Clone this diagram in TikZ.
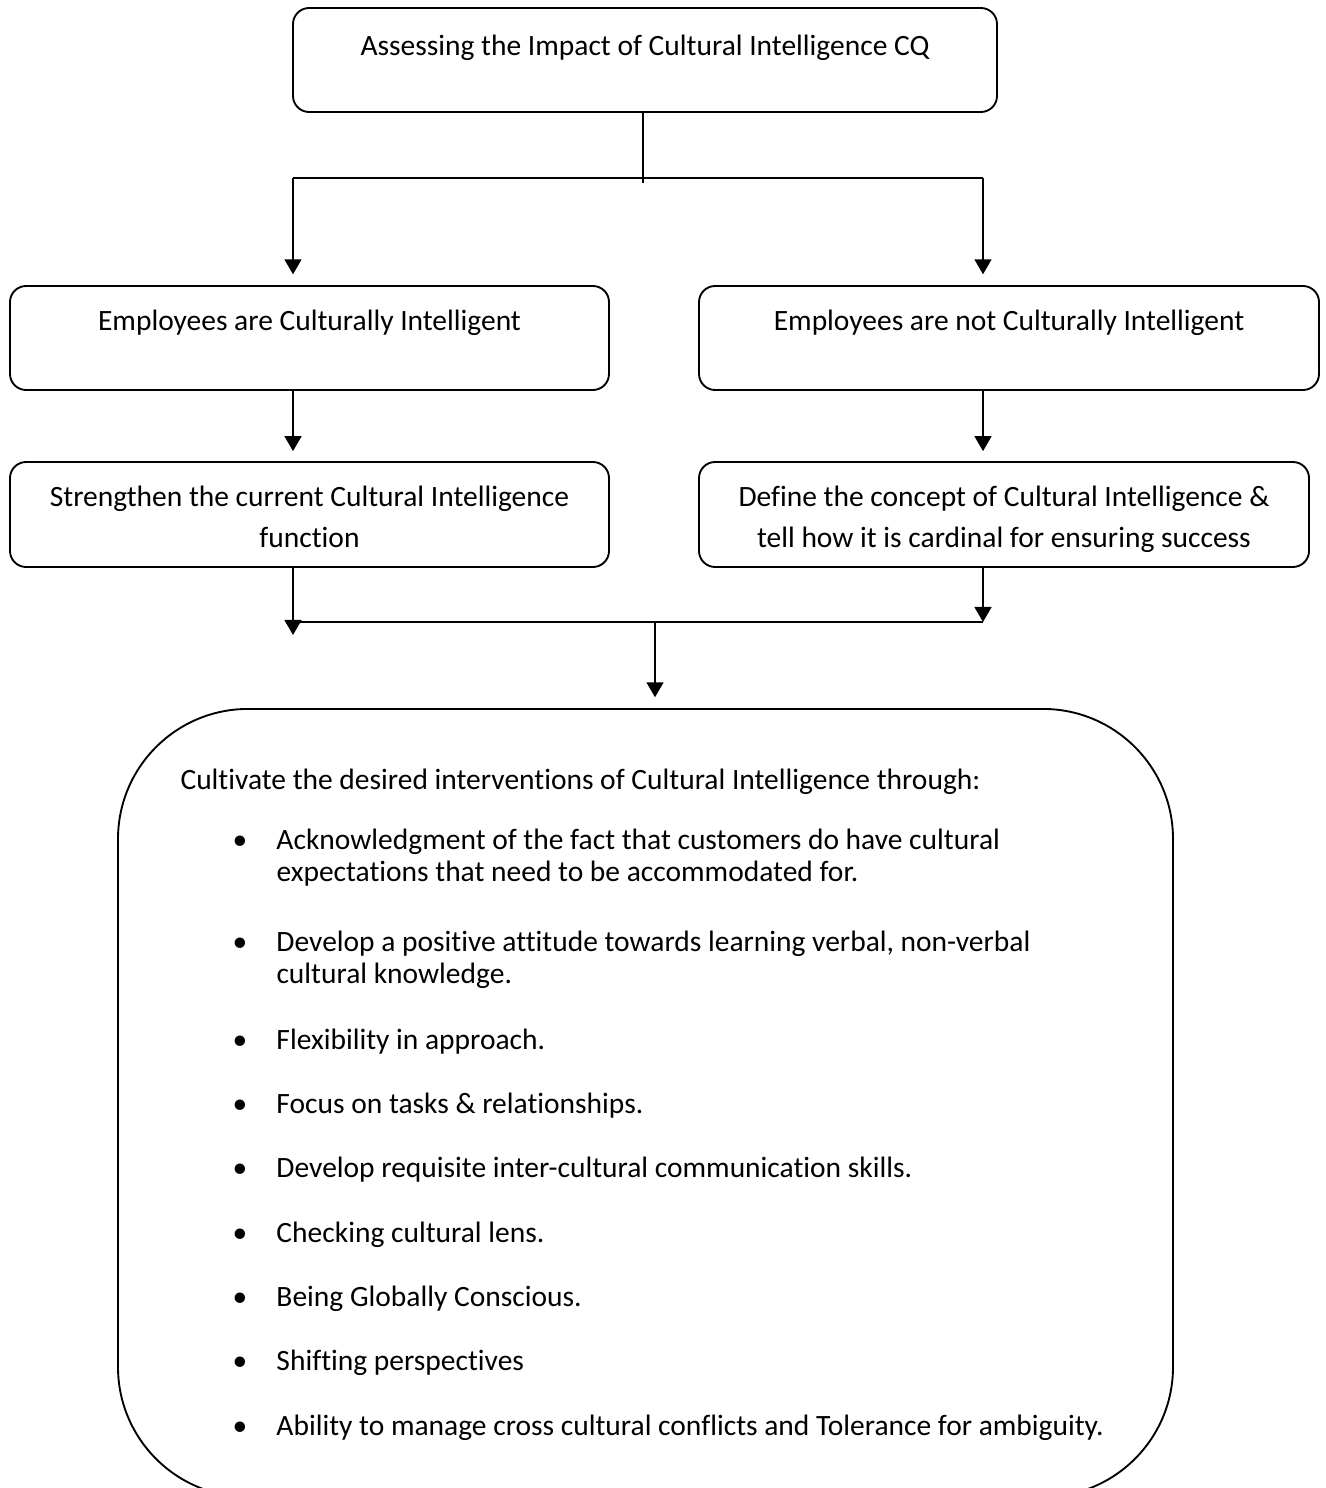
\documentclass[tikz,border=0pt]{standalone}
\usepackage{fontspec}
\setmainfont{Carlito}[Ligatures=NoCommon, RawFeature=-clig, RawFeature=-calt]
\usetikzlibrary{arrows.meta}
\usetikzlibrary{calc}
\usetikzlibrary{positioning}

\def\unitpx{0.373pt}
\newcommand\bul{\hspace*{19.4pt}\makebox[16.4pt][l]{\textbullet}}
\newcommand\ind{\hspace*{35.8pt}}

\begin{document}
\begin{tikzpicture}[x=\unitpx, y=-\unitpx,
    box/.style={draw, rounded corners=6pt, line width=0.7pt, align=center,
                inner sep=0pt, font=\fontsize{11}{15.3}\selectfont},
    link/.style={line width=0.7pt},
    arr/.style={link, -{Triangle[length=5.6pt,width=6.3pt]}}]
	\useasboundingbox (0,0) rectangle (1325,1488);
	\clip (0,0) rectangle (1325,1488);

	% boxes
	\node[box, minimum width=704*\unitpx, minimum height=104*\unitpx] (assess) at (645,60)
		{\rule{0pt}{13.5pt}Assessing the Impact of Cultural Intelligence CQ\\[-3.1pt]\strut};
	\node[box, minimum width=599*\unitpx, minimum height=104*\unitpx] (yes) at (309.5,338)
		{\rule{0pt}{14.5pt}Employees are Culturally Intelligent\strut\\\strut};
	\node[box, minimum width=620*\unitpx, minimum height=104*\unitpx] (no) at (1009,338)
		{\rule{0pt}{14.5pt}Employees are not Culturally Intelligent\strut\\\strut};
	\node[box, minimum width=599*\unitpx, minimum height=105*\unitpx] (strengthen) at (309.5,514.5)
		{\rule{0pt}{13.7pt}Strengthen the current Cultural Intelligence\strut\\function\strut};
	\node[box, minimum width=610*\unitpx, minimum height=105*\unitpx] (define) at (1004,514.5)
		{\rule{0pt}{13.7pt}Define the concept of Cultural Intelligence \&\strut\\tell how it is cardinal for ensuring success\strut};
	\node[draw, line width=0.7pt, rounded corners=48.5pt, minimum width=1055*\unitpx,
	      minimum height=788*\unitpx, anchor=north] (interv) at (645.5,708) {};

	% text of the big box
	\node[anchor=north west, inner sep=0pt, align=left,
	      font=\fontsize{11}{11.9}\selectfont] (points) at (180,768) {%
		Cultivate the desired interventions of Cultural Intelligence through:\\[10.6pt]
		\bul Acknowledgment of the fact that customers do have cultural\\
		\ind expectations that need to be accommodated for.\\[14.2pt]
		\bul Develop a positive attitude towards learning verbal, non-verbal\\
		\ind cultural knowledge.\\[12.7pt]
		\bul Flexibility in approach.\\[12.1pt]
		\bul Focus on tasks \& relationships.\\[12.1pt]
		\bul Develop requisite inter-cultural communication skills.\\[12.1pt]
		\bul Checking cultural lens.\\[12.1pt]
		\bul Being Globally Conscious.\\[12.1pt]
		\bul Shifting perspectives\\[12.1pt]
		\bul Ability to manage cross cultural conflicts and Tolerance for ambiguity.};

	% connectors
	\coordinate (fork) at (643,178);
	\coordinate (forkL) at (293,178);
	\coordinate (forkR) at (983,178);
	\coordinate (tipL) at (293,635);
	\coordinate (joinL) at (298,622);
	\coordinate (joinR) at (983,622);
	\coordinate (joinM) at (655,622);

	\draw[link] (assess.south -| fork) -- ($(fork)+(0,5)$);
	\draw[link] (forkL) -- (forkR);
	\draw[arr, shorten >=4pt] (forkL) -- (yes.north -| forkL);
	\draw[arr, shorten >=4pt] (forkR) -- (no.north -| forkR);
	\draw[arr, shorten >=3.7pt] (yes.south -| forkL) -- (strengthen.north -| forkL);
	\draw[arr, shorten >=3.7pt] (no.south -| forkR) -- (define.north -| forkR);
	\draw[arr] (strengthen.south -| forkL) -- (tipL);
	\draw[arr] (define.south -| forkR) -- (joinR);
	\draw[link] (joinL) -- (joinR);
	\draw[arr, shorten >=4pt] (joinM) -- (interv.north -| joinM);
\end{tikzpicture}
\end{document}
